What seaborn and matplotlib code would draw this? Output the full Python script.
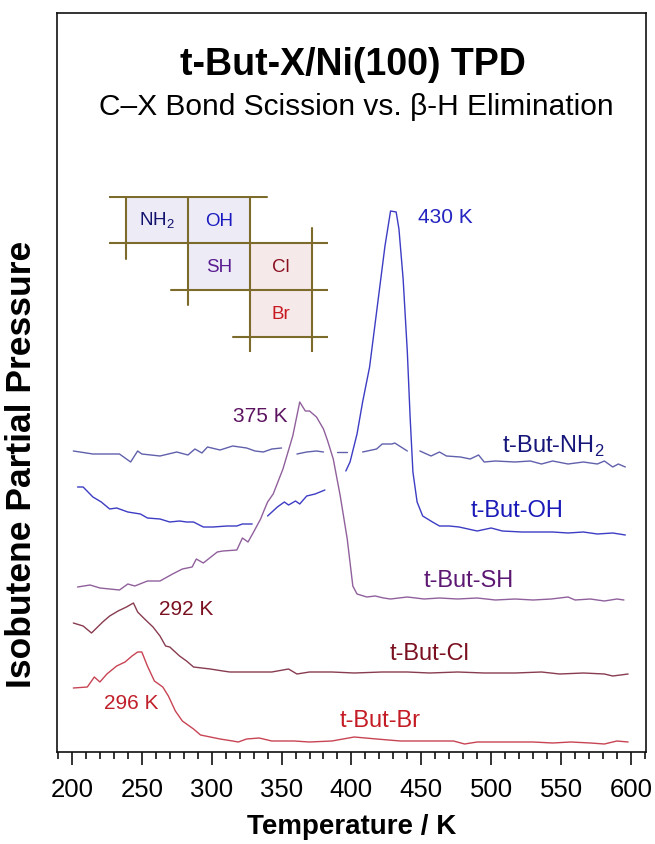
import matplotlib
matplotlib.use("Agg")
import matplotlib.pyplot as plt
import seaborn as sns
import pandas as pd
from matplotlib.patches import Rectangle
from matplotlib.ticker import MultipleLocator

# TPD traces (temperature in K, isobutene signal in a.u.)
# None marks a break in the drawn trace (where another trace crosses it)
temp_nh2 = [201, 215, 234, 242, 247, 250, 263, 275, 283, 288, 293, 297, 306, 315, 325, 331, 337, 343, 350, None,
            361, 368, 375, 380, None, 390, 397, None, 408, 418, 422, 429, 431, 440, None,
            449, 457, 463, 468, 478, 485, 491, 495, 503, 517, 528, 536, 544, 555, 566, 576, 581, 587, 591, 596]
sig_nh2 = [301, 298, 298, 290, 301, 298, 296, 300, 297, 303, 299, 305, 302, 306, 304, 301, 300, 303, 304, None,
           298, 300, 301, 300, None, 300, 300, None, 300, 303, 308, 308, 309, 301, None,
           301, 296, 300, 296, 295, 293, 297, 290, 291, 290, 291, 288, 291, 288, 290, 288, 291, 285, 288, 285]

temp_oh = [204, 208, 215, 221, 227, 232, 240, 249, 254, 263, 270, 277, 282, 287, 294, 301, 311, 318, 322, 329, None,
           340, 347, 352, 355, 360, 363, 368, 374, 381, None,
           396, 399, 404, 408, 413, 418, 424, 428, 432, 434, 437, 440, 442, 444, 447, 451, 458, 463, 470,
           477, 490, 500, 508, 522, 533, 544, 555, 566, 576, 587, 596]
sig_oh = [265, 265, 255, 250, 243, 244, 240, 238, 234, 233, 230, 231, 230, 230, 225, 225, 226, 226, 228, 228, None,
          236, 245, 250, 247, 251, 248, 256, 258, 262, None,
          281, 290, 318, 350, 385, 440, 506, 541, 540, 523, 473, 400, 335, 280, 250, 236, 230, 226, 226,
          225, 221, 224, 221, 220, 220, 220, 219, 220, 218, 219, 217]

temp_sh = [204, 213, 220, 234, 240, 245, 254, 263, 272, 279, 286, 289, 294, 304, 308, 318, 322, 326, 330, 335,
           337, 340, 344, 351, 358, 363, 367, 370, 375, 380, 383, 387, 392, 397, 401, 404, 411, 417, 423, 428,
           440, 452, 463, 476, 490, 503, 517, 530, 543, 555, 560, 571, 581, 590, 595]
sig_sh = [165, 167, 164, 162, 168, 166, 171, 171, 178, 183, 185, 193, 189, 200, 201, 202, 214, 210, 220, 233,
          240, 250, 258, 283, 316, 350, 341, 341, 335, 323, 311, 293, 256, 213, 166, 158, 155, 156, 154, 153,
          155, 153, 154, 153, 154, 152, 153, 152, 153, 155, 152, 153, 151, 153, 152]

temp_cl = [201, 208, 214, 222, 227, 233, 239, 244, 247, 252, 258, 263, 267, 270, 277, 282, 287, 299, 308, 313,
           322, 334, 343, 355, 361, 370, 386, 402, 422, 440, 456, 476, 495, 517, 536, 549, 566, 581, 587, 598]
sig_cl = [129, 126, 119, 130, 136, 141, 145, 149, 140, 133, 125, 116, 106, 105, 96, 91, 85, 83, 81, 80,
          80, 80, 80, 83, 78, 80, 80, 79, 80, 80, 79, 80, 79, 79, 80, 78, 79, 78, 76, 78]

temp_br = [201, 211, 216, 220, 225, 232, 238, 243, 247, 250, 254, 259, 265, 269, 274, 279, 287, 292, 299, 306,
           315, 319, 325, 334, 343, 359, 370, 386, 402, 418, 435, 451, 473, 481, 490, 503, 517, 530, 544, 557,
           571, 581, 590, 598]
sig_br = [64, 65, 75, 70, 78, 86, 90, 96, 100, 100, 86, 71, 65, 56, 41, 31, 23, 17, 15, 13,
          11, 10, 13, 14, 11, 11, 10, 11, 15, 13, 11, 11, 11, 8, 10, 10, 10, 10, 9, 10,
          9, 8, 11, 10]

series_names = ["t-But-NH2", "t-But-OH", "t-But-SH", "t-But-Cl", "t-But-Br"]
series_labels = ["t-But-NH$_\\mathregular{2}$", "t-But-OH", "t-But-SH", "t-But-Cl", "t-But-Br"]
peak_labels = ["430 K", "375 K", "292 K", "296 K"]

# inset "periodic table" of the X groups
cell_labels = ["NH$_\\mathregular{2}$", "OH", "SH", "Cl", "Br"]
cell_rows = [0, 0, 1, 1, 2]
cell_cols = [0, 1, 1, 2, 2]

line_colors = {"t-But-NH2": "#6060ac", "t-But-OH": "#3c3cc4", "t-But-SH": "#90609c",
               "t-But-Cl": "#883c50", "t-But-Br": "#c84454"}
text_colors = {"t-But-NH2": "#16167a", "t-But-OH": "#1a1ab8", "t-But-SH": "#5c1872",
               "t-But-Cl": "#7a1020", "t-But-Br": "#c41c24"}


def to_frame(name, temps, signal):
    rows = []
    seg = 0
    for t, s in zip(temps, signal):
        if t is None:
            seg += 1
            continue
        rows.append({"series": name, "segment": f"{name}-{seg}", "T": t, "signal": s})
    return pd.DataFrame(rows)


df = pd.concat([
    to_frame("t-But-NH2", temp_nh2, sig_nh2),
    to_frame("t-But-OH", temp_oh, sig_oh),
    to_frame("t-But-SH", temp_sh, sig_sh),
    to_frame("t-But-Cl", temp_cl, sig_cl),
    to_frame("t-But-Br", temp_br, sig_br),
], ignore_index=True)

sns.set_style("white")
plt.rcParams["font.family"] = ["Liberation Sans", "DejaVu Sans"]
plt.rcParams["mathtext.fontset"] = "custom"
plt.rcParams["mathtext.rm"] = "Liberation Sans"
plt.rcParams["text.color"] = "black"
plt.rcParams["axes.labelcolor"] = "black"
plt.rcParams["xtick.color"] = "black"

fig = plt.figure(figsize=(6.55, 8.45), dpi=100)
ax = fig.add_axes([57 / 655, 1 - 753 / 845, 589 / 655, 739 / 845])

sns.lineplot(data=df, x="T", y="signal", hue="series", units="segment", estimator=None,
             sort=False, palette=line_colors, lw=1.0, legend=False, ax=ax)

ax.set_xlim(189.3, 610.8)
ax.set_ylim(0, 739)
ax.set_yticks([])
ax.xaxis.set_major_locator(MultipleLocator(50))
ax.xaxis.set_minor_locator(MultipleLocator(10))
ax.tick_params(axis="x", which="both", bottom=True, direction="out", width=1.2, color="#111111")
ax.tick_params(axis="x", which="major", length=9, labelsize=18.5, pad=9)
ax.tick_params(axis="x", which="minor", length=5)
for sp in ax.spines.values():
    sp.set_color("#111111")
    sp.set_linewidth(1.2)

ax.set_xlabel("Temperature / K", fontsize=20, fontweight="bold", labelpad=9)
ax.set_ylabel("Isobutene Partial Pressure", fontsize=25.5, fontweight="bold")
ax.yaxis.set_label_coords(-0.06, 0.39)
ax.yaxis.label.set_va("center")

ax.text(0.5025, 0.9175, "t-But-X/Ni(100) TPD", transform=ax.transAxes, ha="center",
        va="baseline", fontsize=27, fontweight="bold")
ax.text(0.5076, 0.8633, "C\u2013X Bond Scission vs. \u03b2-H Elimination", transform=ax.transAxes,
        ha="center", va="baseline", fontsize=21.5)

# curve names
name_pos = [(508, 300), (485.5, 236), (452, 166), (427.6, 93), (391.8, 26)]
for name, lab, (tx, ty) in zip(series_names, series_labels, name_pos):
    ax.text(tx, ty, lab, color=text_colors[name], fontsize=17, ha="left", va="baseline")

# peak temperatures
ax.text(447.6, 530, peak_labels[0], color="#2424c0", fontsize=15, ha="left", va="baseline")
ax.text(354.6, 331, peak_labels[1], color="#5c1460", fontsize=15, ha="right", va="baseline")
ax.text(262.3, 138, peak_labels[2], color="#7a1020", fontsize=15, ha="left", va="baseline")
ax.text(222.9, 44, peak_labels[3], color="#c0202a", fontsize=15, ha="left", va="baseline")

# inset grid
ins = fig.add_axes([109 / 655, 1 - 353 / 845, 219 / 655, 156 / 845])
ins.set_xlim(-0.274, 3.258)
ins.set_ylim(3.33, -0.02)
ins.axis("off")
cell_fill = ["#ecebf6", "#ecebf6", "#ecebf6", "#f6e9ea", "#f6e9ea"]
cell_text = ["#12126e", "#1a1ac0", "#5a1a90", "#8a1020", "#c81820"]
for lab, r, c, fc, tc in zip(cell_labels, cell_rows, cell_cols, cell_fill, cell_text):
    ins.add_patch(Rectangle((c, r), 1, 1, facecolor=fc, edgecolor="none", zorder=1))
    ins.text(c + 0.5, r + 0.5, lab, color=tc, fontsize=13.5, ha="center", va="center", zorder=3)

grid_color = "#7d6b2c"
for r in range(max(cell_rows) + 2):
    cs = [c for rr, c in zip(cell_rows, cell_cols) if rr in (r - 1, r)]
    ins.plot([min(cs) - 0.27, max(cs) + 1.27], [r, r], color=grid_color, lw=1.5, zorder=2)
for c in range(max(cell_cols) + 2):
    rs = [r for r, cc in zip(cell_rows, cell_cols) if cc in (c - 1, c)]
    ins.plot([c, c], [max(0, min(rs) - 0.33), max(rs) + 1.33], color=grid_color, lw=1.5, zorder=2)

fig.savefig("out.png", dpi=100)
